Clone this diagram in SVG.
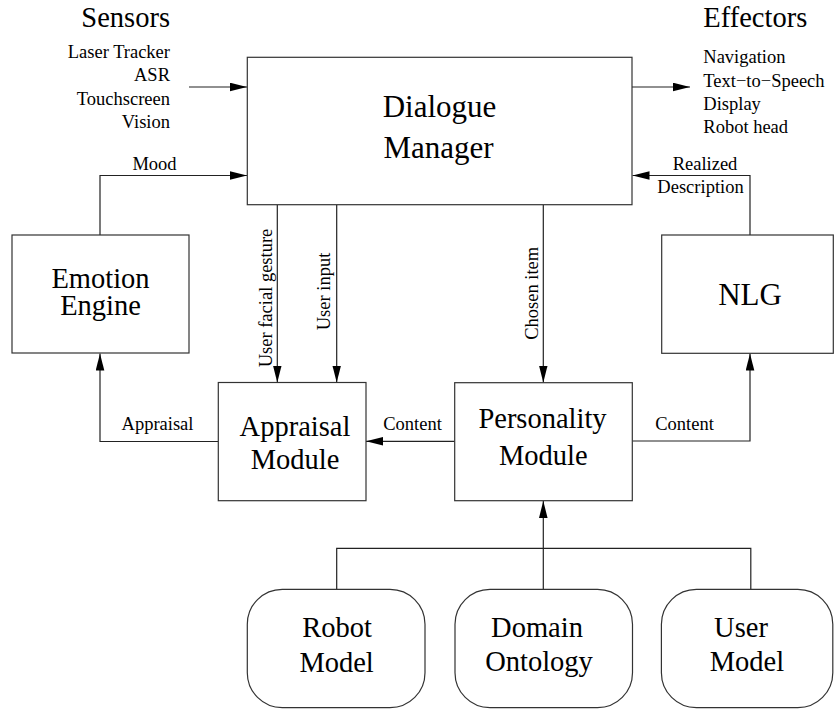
<svg xmlns="http://www.w3.org/2000/svg" width="834" height="709" viewBox="0 0 834 709" font-family="'Liberation Serif', 'DejaVu Serif', serif">
<style>
.box{fill:#fff;stroke:#333;stroke-width:1.2}
.ln{fill:none;stroke:#222;stroke-width:1.2}
text{font-family:'Liberation Serif','DejaVu Serif',serif;fill:#000}
.big{font-size:28.5px;text-anchor:middle}
.huge{font-size:31px;text-anchor:middle}
.sm{font-size:18.5px}
.mid{text-anchor:middle}
.end{text-anchor:end}
</style>
<defs>
<marker id="ar" markerUnits="userSpaceOnUse" markerWidth="18" markerHeight="10" refX="17" refY="4.3" orient="auto">
<path d="M0,0 L17,4.3 L0,8.6 z" fill="#000"/>
</marker>
</defs>
<rect width="834" height="709" fill="#fff"/>

<g id="connectors">
<line class="ln" x1="189" y1="87" x2="247" y2="87" marker-end="url(#ar)"/>
<line class="ln" x1="632" y1="87" x2="690" y2="87" marker-end="url(#ar)"/>
<polyline class="ln" points="100,235 100,175.5 247,175.5" marker-end="url(#ar)"/>
<polyline class="ln" points="750,235 750,175.5 632.5,175.5" marker-end="url(#ar)"/>
<line class="ln" x1="277.3" y1="205" x2="277.3" y2="382.5" marker-end="url(#ar)"/>
<line class="ln" x1="336.7" y1="205" x2="336.7" y2="382.5" marker-end="url(#ar)"/>
<line class="ln" x1="543.3" y1="205" x2="543.3" y2="382.5" marker-end="url(#ar)"/>
<polyline class="ln" points="218,441.5 100,441.5 100,353.5" marker-end="url(#ar)"/>
<line class="ln" x1="454.7" y1="441.3" x2="366" y2="441.3" marker-end="url(#ar)"/>
<polyline class="ln" points="632.3,441 750,441 750,353.5" marker-end="url(#ar)"/>
<polyline class="ln" points="336.7,589.3 336.7,548.3 750.8,548.3 750.8,589.3"/>
<line class="ln" x1="543.3" y1="589.3" x2="543.3" y2="501" marker-end="url(#ar)"/>
</g>

<g id="labels">
<text x="170" y="27.3" style="font-size:28.5px" class="end">Sensors</text>
<text class="sm end" x="170" y="58.3">Laser Tracker</text>
<text class="sm end" x="170" y="81.3">ASR</text>
<text class="sm end" x="170" y="104.7">Touchscreen</text>
<text class="sm end" x="170" y="128.3">Vision</text>
<text x="703.3" y="26.7" style="font-size:28.5px">Effectors</text>
<text class="sm" x="703.3" y="63.3">Navigation</text>
<text class="sm" x="703.3" y="86.6">Text−to−Speech</text>
<text class="sm" x="703.3" y="110">Display</text>
<text class="sm" x="703.3" y="133.3">Robot head</text>
<text class="sm mid" x="154.5" y="169.5">Mood</text>
<text class="sm mid" x="705" y="169.5">Realized</text>
<text class="sm mid" x="700.5" y="192.7">Description</text>
<text class="sm mid" x="157.5" y="430">Appraisal</text>
<text class="sm mid" x="412.5" y="430">Content</text>
<text class="sm mid" x="684.5" y="430">Content</text>
<text class="sm mid" transform="translate(272,298) rotate(-90)">User facial gesture</text>
<text class="sm mid" transform="translate(329.5,291.5) rotate(-90)">User input</text>
<text class="sm mid" transform="translate(538.3,293.3) rotate(-90)">Chosen item</text>
</g>

<g id="dialogue-manager">
<rect class="box" x="247.3" y="57.3" width="384.7" height="147.4"/>
<text class="huge" x="439.5" y="116.7">Dialogue</text>
<text class="huge" x="438.5" y="158">Manager</text>
</g>
<g id="emotion-engine">
<rect class="box" x="12" y="235" width="177" height="118"/>
<text class="big" x="100.5" y="287.7">Emotion</text>
<text class="big" x="100.5" y="315">Engine</text>
</g>
<g id="nlg">
<rect class="box" x="661.7" y="235" width="171.6" height="118.3"/>
<text class="huge" x="750" y="305">NLG</text>
</g>
<g id="appraisal-module">
<rect class="box" x="218.3" y="382.5" width="147.7" height="118.2"/>
<text class="big" x="295" y="436">Appraisal</text>
<text class="big" x="295" y="469.3">Module</text>
</g>
<g id="personality-module">
<rect class="box" x="454.7" y="382.7" width="177.6" height="118"/>
<text class="big" x="542.5" y="428.3">Personality</text>
<text class="big" x="543.3" y="465">Module</text>
</g>
<g id="robot-model">
<rect class="box" x="247.3" y="589.3" width="177.7" height="118.4" rx="35" ry="35"/>
<text class="big" x="337" y="636.7">Robot</text>
<text class="big" x="336.6" y="671.7">Model</text>
</g>
<g id="domain-ontology">
<rect class="box" x="455" y="589.3" width="177.5" height="118.4" rx="35" ry="35"/>
<text class="big" x="537" y="636.7">Domain</text>
<text class="big" x="539" y="670.7">Ontology</text>
</g>
<g id="user-model">
<rect class="box" x="661.4" y="589.3" width="171.4" height="118.4" rx="35" ry="35"/>
<text class="big" x="741" y="636.7">User</text>
<text class="big" x="747" y="670.7">Model</text>
</g>
</svg>
